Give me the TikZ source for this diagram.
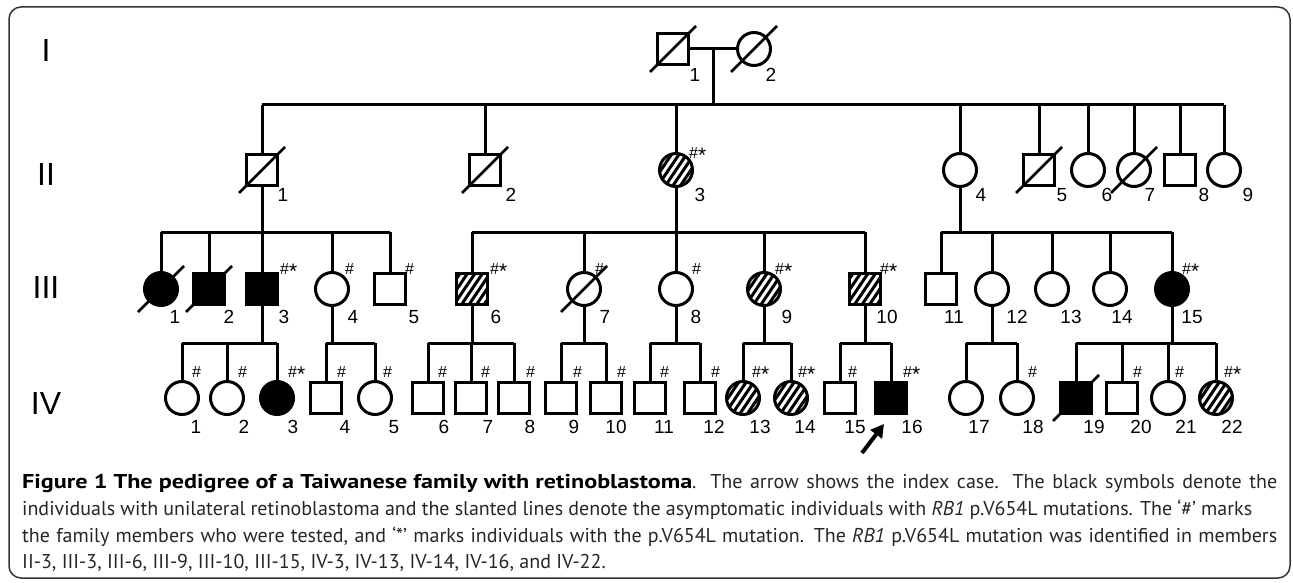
\documentclass[tikz,border=0pt]{standalone}
\usepackage{fontspec}
\usepackage{graphicx}
\setmainfont{Liberation Sans}
\newfontfamily\capfont{PT Sans}
\usetikzlibrary{calc,arrows.meta}
\newsavebox\boldcap
\newcommand\ind[7]{\node[#2] (#1) at (#3,#4) {}; \node[numlab] (#1n) at ($(#1.center)+(#6,#7)$) {#5};}
\newcommand\mk[4]{\node[marklab] (#1m) at ($(#1.center)+(#2,#3)$) {#4};}
\newcommand\dslash[1]{\draw[slashline] ($(#1.center)+(-23,23)$) -- ($(#1.center)+(23,-23)$);}
\newcommand\st{\raisebox{-4pt}{\fontsize{21}{21}\selectfont *}}
\begin{document}
\sbox\boldcap{\capfont\fontsize{20}{20}\selectfont\bfseries Figure 1 The pedigree of a Taiwanese family with retinoblastoma}%
\begin{tikzpicture}[x=1pt,y=-1pt,
  conn/.style={line width=3pt},
  sym/.style={draw, line width=3pt, inner sep=0pt, outer sep=0pt},
  sq/.style={sym, rectangle, minimum size=31pt},
  ci/.style={sym, circle, minimum size=33pt},
  aff/.style={fill=black},
  hatch/.style={path picture={\foreach \k in {-4,...,4}{\draw[line width=3pt] ($(path picture bounding box.center)+(\k*7.5-13.5,20)$) -- ++(27,-40);}}},
  numlab/.style={font=\fontsize{19}{19}\selectfont, inner sep=0pt},
  marklab/.style={font=\fontsize{16}{16}\selectfont, inner sep=0pt, anchor=base west},
  genlab/.style={font=\fontsize{32}{32}\selectfont, inner sep=0pt},
  slashline/.style={line width=2.5pt},
  capline/.style={anchor=base west, inner sep=0pt, font=\capfont\fontsize{20}{20}\selectfont, text=black!85}
]
\useasboundingbox (0,0) rectangle (1293,583);
\draw[rounded corners=12pt, line width=1.5pt, black!80] (9,7) rectangle (1290,578);

% generation labels
\node[genlab] (gI) at (46,50) {I};
\node[genlab] (gII) at (46,174) {II};
\node[genlab] (gIII) at (46,287) {III};
\node[genlab] (gIV) at (46,403) {IV};

% Generation I
\ind{I1}{sq}{673}{49}{1}{22}{26}
\ind{I2}{ci}{754}{49}{2}{17}{26}
\dslash{I1}\dslash{I2}

% Generation II
\ind{II1}{sq}{262}{170}{1}{21}{25}
\ind{II2}{sq}{485}{170}{2}{26}{25}
\ind{II3}{ci,hatch}{676}{170}{3}{24}{25}
\ind{II4}{ci}{960}{170}{4}{21}{25}
\ind{II5}{sq}{1039}{170}{5}{23}{25}
\ind{II6}{ci}{1088}{170}{6}{19}{25}
\ind{II7}{ci}{1134}{170}{7}{16}{25}
\ind{II8}{sq}{1180}{170}{8}{24}{25}
\ind{II9}{ci}{1224}{170}{9}{24}{25}
\dslash{II1}\dslash{II2}\dslash{II5}\dslash{II7}
\mk{II3}{13}{-12}{\#\st}

% Generation III
\ind{III1}{ci,aff}{161}{289}{1}{14}{28}
\ind{III2}{sq,aff}{209}{289}{2}{20}{28}
\ind{III3}{sq,aff}{262}{289}{3}{22}{28}
\ind{III4}{ci}{332}{289}{4}{21}{28}
\ind{III5}{sq}{390}{289}{5}{24}{28}
\ind{III6}{sq,hatch}{472}{289}{6}{24}{28}
\ind{III7}{ci}{584}{289}{7}{21}{28}
\ind{III8}{ci}{676}{289}{8}{20}{28}
\ind{III9}{ci,hatch}{764}{289}{9}{23}{28}
\ind{III10}{sq,hatch}{865}{289}{10}{22}{28}
\ind{III11}{sq}{941}{289}{11}{13}{28}
\ind{III12}{ci}{992}{289}{12}{25}{28}
\ind{III13}{ci}{1052}{289}{13}{19}{28}
\ind{III14}{ci}{1110}{289}{14}{12}{28}
\ind{III15}{ci,aff}{1172}{289}{15}{20}{28}
\dslash{III1}\dslash{III2}\dslash{III7}
\mk{III3}{18}{-15}{\#\st}
\mk{III4}{13}{-15}{\#}
\mk{III5}{15}{-15}{\#}
\mk{III6}{18}{-15}{\#\st}
\mk{III7}{11}{-15}{\#}
\mk{III8}{16}{-15}{\#}
\mk{III9}{11}{-15}{\#\st}
\mk{III10}{15}{-15}{\#\st}
\mk{III15}{10}{-15}{\#\st}

% Generation IV
\ind{IV1}{ci}{182}{398}{1}{14}{29}
\ind{IV2}{ci}{227}{398}{2}{17}{29}
\ind{IV3}{ci,aff}{277}{398}{3}{16}{29}
\ind{IV4}{sq}{326}{398}{4}{19}{29}
\ind{IV5}{ci}{375}{398}{5}{19}{29}
\ind{IV6}{sq}{428}{398}{6}{16}{29}
\ind{IV7}{sq}{471}{398}{7}{17}{29}
\ind{IV8}{sq}{514}{398}{8}{16}{29}
\ind{IV9}{sq}{561}{398}{9}{13}{29}
\ind{IV10}{sq}{606}{398}{10}{10}{29}
\ind{IV11}{sq}{650}{398}{11}{14}{29}
\ind{IV12}{sq}{700}{398}{12}{14}{29}
\ind{IV13}{ci,hatch}{743}{398}{13}{17}{29}
\ind{IV14}{ci,hatch}{791}{398}{14}{14}{29}
\ind{IV15}{sq}{840}{398}{15}{15}{29}
\ind{IV16}{sq,aff}{891}{398}{16}{21}{29}
\ind{IV17}{ci}{966}{398}{17}{13}{29}
\ind{IV18}{ci}{1017}{398}{18}{16}{29}
\ind{IV19}{sq,aff}{1076}{398}{19}{18}{29}
\ind{IV20}{sq}{1122}{398}{20}{19}{29}
\ind{IV21}{ci}{1168}{398}{21}{18}{29}
\ind{IV22}{ci,hatch}{1216}{398}{22}{16}{29}
\dslash{IV19}
\mk{IV1}{10}{-21}{\#}
\mk{IV2}{11}{-21}{\#}
\mk{IV3}{11}{-21}{\#\st}
\mk{IV4}{11}{-21}{\#}
\mk{IV5}{8}{-21}{\#}
\mk{IV6}{10}{-21}{\#}
\mk{IV7}{10}{-21}{\#}
\mk{IV8}{12}{-21}{\#}
\mk{IV9}{12}{-21}{\#}
\mk{IV10}{11}{-21}{\#}
\mk{IV11}{10}{-21}{\#}
\mk{IV12}{11}{-21}{\#}
\mk{IV13}{9}{-21}{\#\st}
\mk{IV14}{7}{-21}{\#\st}
\mk{IV15}{8}{-21}{\#}
\mk{IV16}{12}{-21}{\#\st}
\mk{IV18}{11}{-21}{\#}
\mk{IV20}{11}{-21}{\#}
\mk{IV21}{7}{-21}{\#}
\mk{IV22}{8}{-21}{\#\st}

% sibship levels
\coordinate (sII) at (0,105);
\coordinate (sIII) at (0,232);
\coordinate (sIV) at (0,343);

% Gen I couple and children
\draw[conn] (I1.east) -- (I2.west);
\coordinate (mI) at ($(I1.east)!0.5!(I2.west)$);
\draw[conn] (mI) -- (mI |- sII);
\draw[conn] (II1.north |- sII) -- (II9.north |- sII);
\foreach \n in {II1,II2,II3,II4,II5,II6,II7,II8,II9}
  \draw[conn] (\n.north) -- (\n.north |- sII);

% Gen II to III
\draw[conn] (II1.south) -- (II1.south |- sIII);
\draw[conn] (III1.north |- sIII) -- (III5.north |- sIII);
\foreach \n in {III1,III2,III3,III4,III5}
  \draw[conn] (\n.north) -- (\n.north |- sIII);
\draw[conn] (II3.south) -- (II3.south |- sIII);
\draw[conn] (III6.north |- sIII) -- (III10.north |- sIII);
\foreach \n in {III6,III7,III8,III9,III10}
  \draw[conn] (\n.north) -- (\n.north |- sIII);
\draw[conn] (II4.south) -- (II4.south |- sIII);
\draw[conn] (III11.north |- sIII) -- (III15.north |- sIII);
\foreach \n in {III11,III12,III13,III14,III15}
  \draw[conn] (\n.north) -- (\n.north |- sIII);

% Gen III to IV
\foreach \p/\a/\b in {III3/IV1/IV3, III4/IV4/IV5, III6/IV6/IV8, III7/IV9/IV10, III8/IV11/IV12, III9/IV13/IV14, III10/IV15/IV16, III12/IV17/IV18, III15/IV19/IV22}{
  \draw[conn] (\p.south) -- (\p.south |- sIV);
  \draw[conn] (\a.north |- sIV) -- (\b.north |- sIV);
}
\foreach \n in {IV1,IV2,IV3,IV4,IV5,IV6,IV7,IV8,IV9,IV10,IV11,IV12,IV13,IV14,IV15,IV16,IV17,IV18,IV19,IV20,IV21,IV22}
  \draw[conn] (\n.north) -- (\n.north |- sIV);

% index case arrow
\coordinate (arrT) at (862,453);
\coordinate (arrH) at (884,424);
\draw[line width=4pt, -{Triangle[length=13pt,width=14pt]}] (arrT) -- (arrH);

% caption
\node[capline] (cap1) at (22,488) {\makebox[1255pt][s]{\resizebox{670pt}{\ht\boldcap}{\usebox\boldcap}. The arrow shows the index case. The black symbols denote the}};
\node[capline] (cap2) at (22,515) {\makebox[1230pt][s]{individuals with unilateral retinoblastoma and the slanted lines denote the asymptomatic individuals with \textit{RB1} p.V654L mutations. The ‘\#’ marks}};
\node[capline] (cap3) at (22,542) {\makebox[1255pt][s]{the family members who were tested, and ‘*’ marks individuals with the p.V654L mutation. The \textit{RB1} p.V654L mutation was identified in members}};
\node[capline] (cap4) at (22,568) {II-3, III-3, III-6, III-9, III-10, III-15, IV-3, IV-13, IV-14, IV-16, and IV-22.};
\end{tikzpicture}
\end{document}
